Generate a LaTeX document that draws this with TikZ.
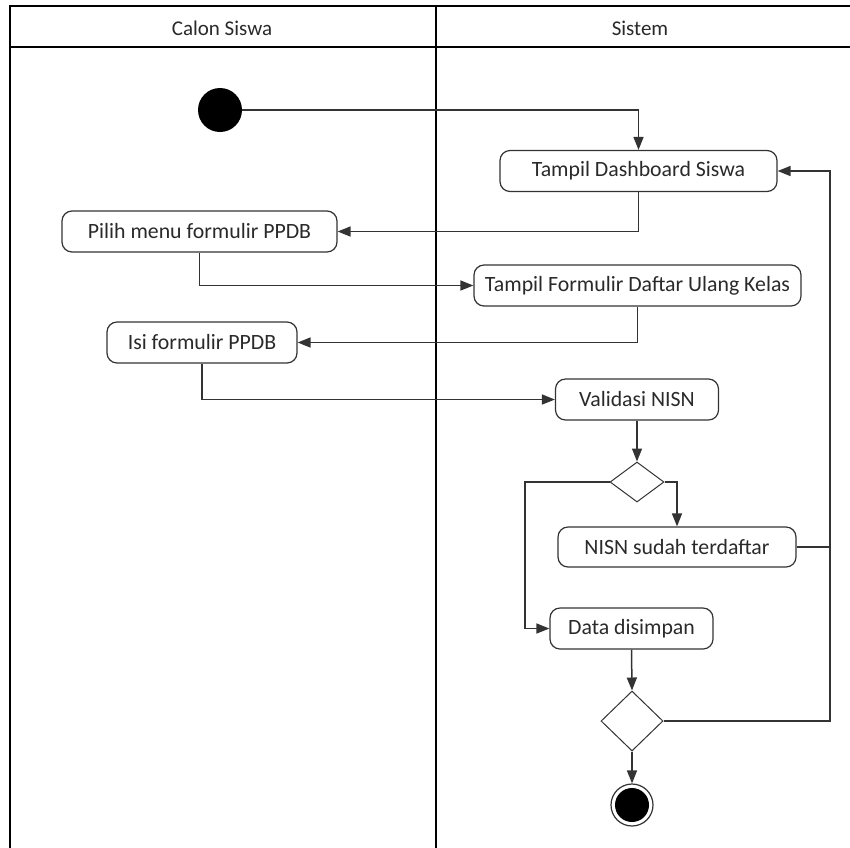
\documentclass[tikz,border=0pt]{standalone}
\usepackage{fontspec}
\setmainfont{Carlito}
\usetikzlibrary{shapes.geometric,arrows.meta,calc}
\definecolor{edge}{HTML}{333333}
\definecolor{txt}{HTML}{2A2A2A}
\tikzset{
  act/.style={draw=edge, line width=1.2pt, rounded corners=10pt, fill=white, minimum height=41pt, inner sep=0pt, font=\fontsize{21.8}{24}\selectfont, text=txt},
  dec/.style={diamond, draw=edge, line width=1pt, inner sep=0pt, fill=white},
  conn/.style={draw=edge, line width=1.5pt},
  arr/.style={conn, -{Triangle[length=13pt,width=10pt]}},
  lane/.style={draw=black, line width=2.8pt},
  head/.style={font=\fontsize{21}{23}\selectfont, text=txt}
}
\begin{document}
\begin{tikzpicture}[x=1pt,y=-1pt]
\useasboundingbox (0,0) rectangle (850,847);
\clip (0,0) rectangle (850,847);
\fill[white] (0,0) rectangle (850,847);
% swimlanes
\draw[lane] (10,870) -- (10,6) -- (870,6);
\draw[lane] (10,47) -- (870,47);
\draw[lane] (436,6) -- (436,870);
\node[head] (h1) at (222,28) {Calon Siswa};
\node[head] (h2) at (640,28) {Sistem};
% nodes
\node[circle, fill=black, minimum size=44pt, inner sep=0pt] (init) at (220,110) {};
\node[act, minimum width=277pt] (dash) at (638.5,171) {Tampil Dashboard Siswa};
\node[act, minimum width=275pt] (pilih) at (199.5,231.5) {Pilih menu formulir PPDB};
\node[act, minimum width=327pt] (form) at (637.5,285.5) {Tampil Formulir Daftar Ulang Kelas};
\node[act, minimum width=190pt] (isi) at (202,342.5) {Isi formulir PPDB};
\node[act, minimum width=163pt] (valid) at (637,399.5) {Validasi NISN};
\node[dec, minimum width=54pt, minimum height=40pt] (d1) at (637,482) {};
\node[act, minimum width=238pt, minimum height=40pt] (nisn) at (677,547) {NISN sudah terdaftar};
\node[act, minimum width=163pt] (data) at (631.5,628.5) {Data disimpan};
\node[dec, minimum width=62pt, minimum height=60pt] (d2) at (632,721) {};
\node[circle, draw=edge, line width=1.2pt, minimum size=42pt, inner sep=0pt,
  path picture={\fill[black] (path picture bounding box.center) circle (17pt);}] (final) at (632,805) {};
\coordinate (rr) at (830,171);
\coordinate (lc) at (525,482);
% connectors
\draw[arr] (init.east) -| (dash.north);
\draw[arr] (dash.south) |- (pilih.east);
\draw[arr] (pilih.south) |- (form.west);
\draw[arr] (form.south) |- (isi.east);
\draw[arr] (isi.south) |- (valid.west);
\draw[arr] (valid.south) -- (d1.north);
\draw[arr] (d1.east) -| (nisn.north);
\draw[arr] (nisn.east) -| (rr) -- (dash.east);
\draw[arr] (d1.west) -- (lc) |- (data.west);
\draw[arr] (data.south) -- (d2.north);
\draw[conn] (d2.east) -| (rr);
\draw[arr] (d2.south) -- (final.north);
\end{tikzpicture}
\end{document}
